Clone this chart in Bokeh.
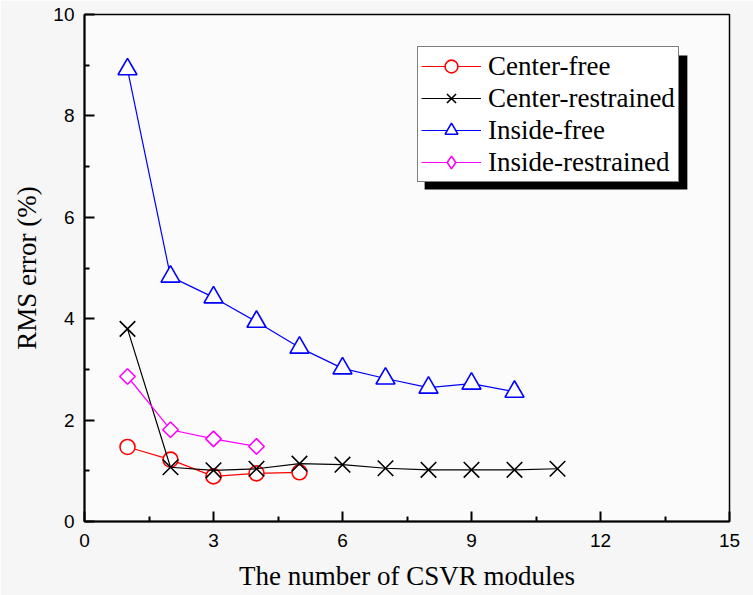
from bokeh.plotting import figure
from bokeh.models import Legend, LegendItem, BoxAnnotation, FixedTicker, Range1d
from bokeh.embed import file_html
from bokeh.resources import INLINE

# RMS error (%) versus the number of CSVR modules
modules_center_free = [1, 2, 3, 4, 5]
center_free = [1.47, 1.22, 0.89, 0.95, 0.97]

modules_center_restrained = [1, 2, 3, 4, 5, 6, 7, 8, 9, 10, 11]
center_restrained = [3.80, 1.07, 1.01, 1.04, 1.14, 1.12, 1.05, 1.02, 1.02, 1.02, 1.04]

modules_inside_free = [1, 2, 3, 4, 5, 6, 7, 8, 9, 10]
inside_free = [8.92, 4.83, 4.42, 3.94, 3.43, 3.02, 2.82, 2.64, 2.72, 2.56]

modules_inside_restrained = [1, 2, 3, 4]
inside_restrained = [2.86, 1.81, 1.63, 1.48]

x_ticks = [0, 3, 6, 9, 12, 15]
y_ticks = [0, 2, 4, 6, 8, 10]

SERIF = "Liberation Serif"
SANS = "Liberation Sans"

p = figure(width=753, height=595, output_backend="svg", toolbar_location=None,
           x_range=Range1d(0, 15), y_range=Range1d(0, 10),
           min_border_left=84, min_border_right=24, min_border_top=14, min_border_bottom=74)
p.background_fill_color = "#fbfbfb"
p.border_fill_color = "#f6f6f6"
p.grid.visible = False
p.outline_line_color = "black"
p.outline_line_width = 1.5

p.xaxis.ticker = FixedTicker(ticks=x_ticks, minor_ticks=[1.5, 4.5, 7.5, 10.5, 13.5])
p.yaxis.ticker = FixedTicker(ticks=y_ticks, minor_ticks=[1, 3, 5, 7, 9])
for ax in (p.xaxis[0], p.yaxis[0]):
    ax.axis_line_width = 2
    ax.axis_line_color = "black"
    ax.major_tick_in = 10
    ax.major_tick_out = 0
    ax.minor_tick_in = 5
    ax.minor_tick_out = 0
    ax.major_tick_line_width = 2
    ax.minor_tick_line_width = 2
    ax.major_label_text_font = SANS
    ax.major_label_text_font_size = "19px"
    ax.major_label_text_color = "black"
    ax.axis_label_text_font = SERIF
    ax.axis_label_text_font_size = "27px"
    ax.axis_label_text_font_style = "normal"
    ax.axis_label_text_color = "black"
p.xaxis.axis_label = "The number of CSVR modules"
p.yaxis.axis_label = "RMS error (%)"
p.xaxis.major_label_standoff = 12
p.xaxis.axis_label_standoff = 11
p.yaxis.major_label_standoff = 10
p.yaxis.axis_label_standoff = 8

series = [
    ("Center-free", modules_center_free, center_free, "red", "circle", 15, 0, None),
    ("Center-restrained", modules_center_restrained, center_restrained, "black", "x", 22, 0, None),
    ("Inside-free", modules_inside_free, inside_free, "blue", "triangle", 19, 0, None),
    # open diamonds: a square turned by 45 degrees in the plot, a diamond key in the legend
    ("Inside-restrained", modules_inside_restrained, inside_restrained, "magenta", "square", 11, 0.785398, "diamond"),
]

items = []
for label, xs, ys, color, marker, size, ang, key_marker in series:
    ln = p.line(xs, ys, line_color=color, line_width=1.2)
    sc = p.scatter(xs, ys, marker=marker, size=size, angle=ang, line_color=color,
                   fill_color="white", line_width=1.6)
    if key_marker is None:
        items.append(LegendItem(label=label, renderers=[ln, sc]))
    else:
        # legend-only key glyph; its single point is not finite, so nothing shows in the plot
        key = p.scatter([float("nan")], [float("nan")], marker=key_marker, size=size,
                        line_color=color, fill_color="white", line_width=1.6)
        items.append(LegendItem(label=label, renderers=[ln, key]))

# drop shadow behind the legend box
shadow = BoxAnnotation(left=7.91, right=14.02, top=9.19, bottom=6.55,
                       fill_color="black", fill_alpha=1.0, line_color=None)
p.add_layout(shadow)

legend = Legend(items=items, location=(333, 339), orientation="vertical")
legend.label_text_font = SERIF
legend.label_text_font_size = "27px"
legend.label_text_color = "black"
legend.glyph_width = 60
legend.glyph_height = 32
legend.label_height = 32
legend.label_standoff = 7
legend.spacing = 0
legend.padding = 3
legend.margin = 0
legend.border_line_color = "black"
legend.border_line_width = 1.5
legend.background_fill_color = "white"
legend.background_fill_alpha = 1.0
p.add_layout(legend)

open("out.html", "w").write(file_html(p, INLINE))
